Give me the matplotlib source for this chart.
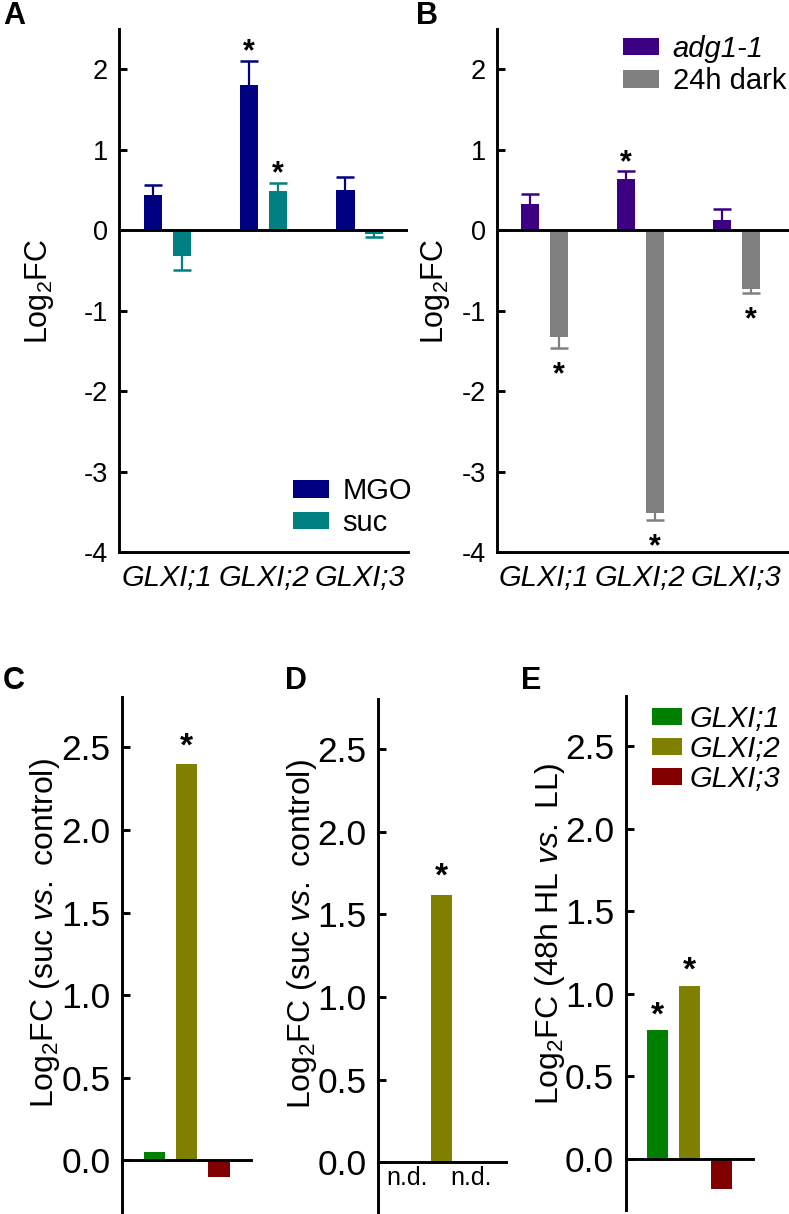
import matplotlib
matplotlib.use('Agg')
import matplotlib.pyplot as plt
import numpy as np

plt.rcParams['font.family'] = ['Liberation Sans', 'DejaVu Sans']
plt.rcParams['mathtext.fontset'] = 'custom'
plt.rcParams['mathtext.rm'] = 'Liberation Sans'
plt.rcParams['mathtext.it'] = 'Liberation Sans:italic'
plt.rcParams['mathtext.bf'] = 'Liberation Sans:bold'
plt.rcParams['axes.unicode_minus'] = False

# ---------------- data ----------------
genes = ['GLXI;1', 'GLXI;2', 'GLXI;3']

# Panel A
mgo_vals = [0.44, 1.80, 0.50]
mgo_err = [0.12, 0.30, 0.16]
mgo_sig = [False, True, False]
suc_vals = [-0.32, 0.49, -0.05]
suc_err = [0.17, 0.09, 0.03]
suc_sig = [False, True, False]

# Panel B
adg_vals = [0.33, 0.63, 0.13]
adg_err = [0.12, 0.10, 0.13]
adg_sig = [False, True, False]
dark_vals = [-1.33, -3.52, -0.73]
dark_err = [0.13, 0.08, 0.05]
dark_sig = [True, True, True]

# Panel C (suc vs control)
c_vals = [0.05, 2.40, -0.10]
c_sig = [False, True, False]
# Panel D (suc vs control), n.d. = not detected
d_vals = [np.nan, 1.62, np.nan]
d_sig = [False, True, False]
# Panel E (48h HL vs LL)
e_vals = [0.78, 1.05, -0.18]
e_sig = [True, True, False]

top_yticks = [-4, -3, -2, -1, 0, 1, 2]
bot_yticks = [0.0, 0.5, 1.0, 1.5, 2.0, 2.5]

# ---------------- style ----------------
W, H = 789, 1214
c_mgo, c_suc = '#000080', '#008080'
c_adg, c_dark = '#3c0082', '#808080'
gene_colors = ['#008000', '#808000', '#800000']
LW = 2.1

fig = plt.figure(figsize=(W / 100, H / 100), dpi=100)


def px_axes(l, r, t, b):
    return fig.add_axes([l / W, 1 - b / H, (r - l) / W, (b - t) / H])


def star(ax, x, y, up, d, size):
    spx = size * 100 / 72
    off = (d if up else -d) - 0.55 * spx
    ax.annotate('*', xy=(x, y), xytext=(0, off), textcoords='offset pixels',
                ha='center', va='baseline', fontsize=size, fontweight='bold',
                annotation_clip=False)


def err_bars(ax, xs, vals, errs, color):
    vals = np.asarray(vals)
    errs = np.asarray(errs)
    lower = np.where(vals < 0, errs, 0)
    upper = np.where(vals >= 0, errs, 0)
    ax.errorbar(xs, vals, yerr=[lower, upper], fmt='none', ecolor=color,
                elinewidth=1.6, capsize=0, zorder=1)
    ends = vals + np.sign(vals) * errs
    ax.plot(xs, ends, linestyle='none', marker='_', markersize=12.5,
            markeredgewidth=1.8, color=color, zorder=1)
    return ends


def style_top(ax):
    for s in ['top', 'right']:
        ax.spines[s].set_visible(False)
    for s in ['left', 'bottom']:
        ax.spines[s].set_linewidth(LW)
    ax.set_ylim(-4, 2.5)
    ax.set_yticks(top_yticks)
    ax.set_yticklabels([str(t) for t in top_yticks])
    ax.tick_params(axis='y', direction='in', length=5.5, width=LW, labelsize=19.5, pad=8)
    ax.set_xticks(np.arange(3))
    ax.set_xticklabels(genes, fontstyle='italic', fontsize=21)
    ax.tick_params(axis='x', length=0, pad=9)
    ax.axhline(0, color='black', linewidth=LW, zorder=3)


def style_bot(ax):
    for s in ['top', 'right']:
        ax.spines[s].set_visible(False)
    ax.spines['left'].set_linewidth(LW)
    ax.spines['bottom'].set_linewidth(LW)
    ax.spines['bottom'].set_position(('data', 0))
    ax.set_xlim(-1.0, 3.0)
    ax.set_ylim(-0.31, 2.805)
    ax.set_yticks(bot_yticks)
    ax.set_yticklabels(['%.1f' % t for t in bot_yticks])
    ax.tick_params(axis='y', direction='in', length=5.5, width=LW, labelsize=25.5, pad=8.5)
    ax.set_xticks([])


x = np.arange(3)
bw = 0.19
off = 0.15

# ---------------- Panel A ----------------
axA = px_axes(119.3, 408, 29, 552)
axA.set_xlim(-0.5, 2.5)
bA1 = axA.bar(x - off, mgo_vals, width=bw, color=c_mgo, zorder=2, label='MGO')
bA2 = axA.bar(x + off, suc_vals, width=bw, color=c_suc, zorder=2, label='suc')
eA1 = err_bars(axA, x - off, mgo_vals, mgo_err, c_mgo)
eA2 = err_bars(axA, x + off, suc_vals, suc_err, c_suc)
style_top(axA)
for i in range(3):
    if mgo_sig[i]:
        star(axA, x[i] - off, eA1[i], eA1[i] >= 0, 18, 22)
    if suc_sig[i]:
        star(axA, x[i] + off, eA2[i], eA2[i] >= 0, 18, 22)
legA = axA.legend([bA1, bA2], ['MGO', 'suc'], loc='center left',
                  bbox_to_anchor=(292.7 / W, 1 - 507 / H), bbox_transform=fig.transFigure,
                  frameon=False, borderpad=0, borderaxespad=0, fontsize=21,
                  handlelength=1.25, handleheight=0.55, handletextpad=0.45, labelspacing=0.12)

# ---------------- Panel B ----------------
axB = px_axes(497.3, 789, 29, 552)
axB.set_xlim(-0.49, 2.55)
bB1 = axB.bar(x - off, adg_vals, width=bw, color=c_adg, zorder=2)
bB2 = axB.bar(x + off, dark_vals, width=bw, color=c_dark, zorder=2)
eB1 = err_bars(axB, x - off, adg_vals, adg_err, c_adg)
eB2 = err_bars(axB, x + off, dark_vals, dark_err, c_dark)
style_top(axB)
for i in range(3):
    if adg_sig[i]:
        star(axB, x[i] - off, eB1[i], eB1[i] >= 0, 17, 22)
    if dark_sig[i]:
        star(axB, x[i] + off, eB2[i], eB2[i] >= 0, 18.5, 22)
legB = axB.legend([bB1, bB2], ['adg1-1', '24h dark'], loc='center left',
                  bbox_to_anchor=(623 / W, 1 - 65 / H), bbox_transform=fig.transFigure,
                  frameon=False, borderpad=0, borderaxespad=0, fontsize=21,
                  handlelength=1.25, handleheight=0.55, handletextpad=0.45, labelspacing=0.16)
legB.get_texts()[0].set_fontstyle('italic')

# ---------------- Panel C ----------------
axC = px_axes(122.3, 251.3, 697, 1211.7)
axC.bar(x, c_vals, width=0.66, color=gene_colors, zorder=2)
style_bot(axC)
for i in range(3):
    if c_sig[i]:
        star(axC, x[i], c_vals[i], c_vals[i] >= 0, 27, 24)

# ---------------- Panel D ----------------
axD = px_axes(378.2, 505.6, 698.8, 1213.5)
d_arr = np.asarray(d_vals)
mask = ~np.isnan(d_arr)
axD.bar(x[mask], d_arr[mask], width=0.66, color=[gene_colors[i] for i in range(3) if mask[i]], zorder=2)
style_bot(axD)
for i in range(3):
    if not mask[i]:
        axD.annotate('n.d.', xy=(x[i], 0), xytext=(-3, -4), textcoords='offset pixels',
                     ha='center', va='top', fontsize=18)
    elif d_sig[i]:
        star(axD, x[i], d_vals[i], d_vals[i] >= 0, 27, 24)

# ---------------- Panel E ----------------
axE = px_axes(626, 753.3, 696, 1210)
bE = axE.bar(x, e_vals, width=0.66, color=gene_colors, zorder=2)
style_bot(axE)
for i in range(3):
    if e_sig[i]:
        star(axE, x[i], e_vals[i], e_vals[i] >= 0, 24, 24)
legE = axE.legend(bE.patches, genes, loc='center left',
                  bbox_to_anchor=(651.7 / W, 1 - 749 / H), bbox_transform=fig.transFigure,
                  frameon=False, borderpad=0, borderaxespad=0,
                  prop={'size': 21, 'style': 'italic'},
                  handlelength=1.05, handleheight=0.52, handletextpad=0.25, labelspacing=0.08)

# ---------------- labels ----------------
def ftext(px, py, s, **kw):
    fig.text(px / W, 1 - py / H, s, **kw)

ftext(40, 291, r'Log$_\mathrm{2}$FC', rotation=90, ha='center', va='center', fontsize=22)
ftext(435, 291, r'Log$_\mathrm{2}$FC', rotation=90, ha='center', va='center', fontsize=22)
ftext(45, 933, r'Log$_\mathrm{2}$FC (suc $\mathit{vs.}$ control)', rotation=90,
      ha='center', va='center', fontsize=23)
ftext(302, 934, r'Log$_\mathrm{2}$FC (suc $\mathit{vs.}$ control)', rotation=90,
      ha='center', va='center', fontsize=23)
ftext(550, 934, r'Log$_\mathrm{2}$FC (48h HL $\mathit{vs.}$ LL)', rotation=90,
      ha='center', va='center', fontsize=23)

for lab, px, py in [('A', 14, 16.5), ('B', 427, 15.5), ('C', 14, 681),
                    ('D', 295.5, 681), ('E', 531.5, 681)]:
    ftext(px, py, lab, ha='center', va='center', fontsize=22, fontweight='bold')

fig.savefig('out.png', dpi=100)
